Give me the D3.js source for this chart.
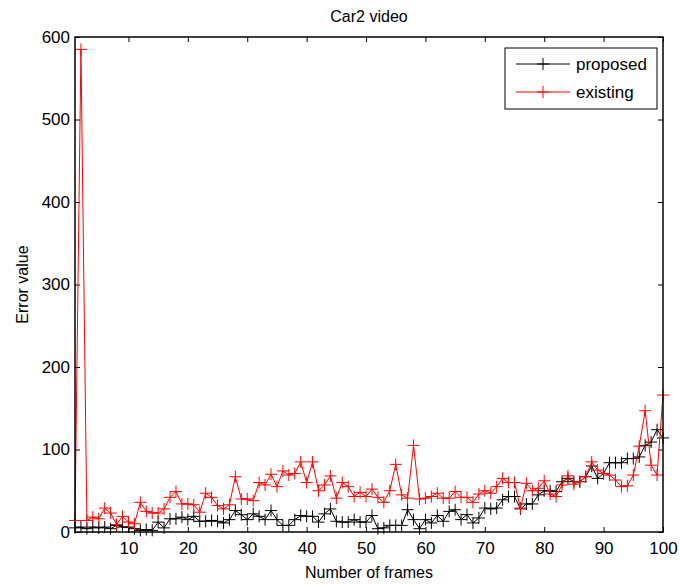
<!DOCTYPE html>
<html>
<head>
<meta charset="utf-8">
<script src="https://cdn.jsdelivr.net/npm/d3@7"></script>
<style>
  body { margin: 0; background: #fff; }
  text { font-family: "Liberation Sans", Arial, sans-serif; fill: #000; }
</style>
</head>
<body>
<script>
// #Data
const frames = d3.range(1, 101);
const proposed = [
    5, 6, 4, 6, 5, 6, 4, 8, 6, 6, 4, 2, 3, 2, 12, 5, 16, 16, 18, 15,
    19, 13, 13, 14, 13, 11, 15, 26, 21, 15, 22, 19, 15, 26, 15, 8, 8, 15, 20, 19,
    19, 12, 22, 28, 13, 12, 12, 15, 12, 12, 20, 4, 5, 8, 8, 8, 27, 15, 4, 15,
    11, 20, 13, 25, 27, 15, 21, 11, 17, 29, 28, 29, 39, 43, 43, 28, 34, 34, 45, 50,
    50, 49, 61, 65, 61, 61, 67, 80, 65, 71, 84, 84, 84, 89, 89, 91, 105, 109, 124, 114
];
const existing = [
    14, 585, 14, 18, 16, 29, 23, 9, 19, 12, 10, 36, 25, 23, 23, 28, 42, 49, 34, 34,
    33, 24, 47, 42, 32, 28, 33, 67, 40, 40, 38, 60, 57, 70, 55, 74, 69, 71, 85, 60,
    85, 50, 57, 68, 41, 60, 55, 43, 48, 43, 52, 42, 36, 50, 82, 45, 41, 105, 40, 41,
    43, 47, 41, 41, 49, 42, 42, 36, 46, 50, 47, 55, 65, 60, 60, 29, 59, 50, 53, 62,
    46, 43, 57, 68, 58, 61, 67, 85, 75, 71, 69, 63, 55, 56, 69, 104, 147, 81, 69, 166
];
const xTicks = [10, 20, 30, 40, 50, 60, 70, 80, 90, 100];
const yTicks = [0, 100, 200, 300, 400, 500, 600];
const seriesNames = ['proposed', 'existing'];
const seriesColors = ['#000000', '#ff0000'];

// #Define SVG
const width = 680, height = 586;
const margin = {top: 37, right: 17, bottom: 54, left: 75};
const innerW = width - margin.left - margin.right;
const innerH = height - margin.top - margin.bottom;

const svg = d3.select('body')
              .append('svg')
              .attr('width', width)
              .attr('height', height);

const g = svg.append('g')
             .attr('transform', 'translate(' + margin.left + ',' + margin.top + ')');

// #Scales
const xScale = d3.scaleLinear().domain([1, 100]).range([0, innerW]);
const yScale = d3.scaleLinear().domain([0, 600]).range([innerH, 0]);

// #Axes, ticks pointing inwards like matlab
const tickLen = 5;
const fmt = d3.format('d');

g.append('g')
 .attr('transform', 'translate(0,' + innerH + ')')
 .call(d3.axisBottom(xScale).tickValues(xTicks).tickFormat(fmt).tickSizeInner(-tickLen).tickSizeOuter(0).tickPadding(10));
g.append('g')
 .call(d3.axisTop(xScale).tickValues(xTicks).tickFormat('').tickSizeInner(-tickLen).tickSizeOuter(0));
g.append('g')
 .call(d3.axisLeft(yScale).tickValues(yTicks).tickFormat(fmt).tickSizeInner(-tickLen).tickSizeOuter(0).tickPadding(5));
g.append('g')
 .attr('transform', 'translate(' + innerW + ',0)')
 .call(d3.axisRight(yScale).tickValues(yTicks).tickFormat('').tickSizeInner(-tickLen).tickSizeOuter(0));

g.selectAll('.domain').remove();
g.selectAll('.tick text').style('font-size', '17px').style('font-family', '"Liberation Sans", Arial, sans-serif');
g.selectAll('.tick line').attr('stroke', '#000');

// #Draw series: proposed first, existing on top
const line = d3.line().x((d, i) => xScale(frames[i])).y(d => yScale(d));
const mk = 6;
[proposed, existing].forEach((vals, s) => {
    const col = seriesColors[s];
    g.append('path')
     .datum(vals)
     .attr('d', line)
     .attr('fill', 'none')
     .attr('stroke', col)
     .attr('stroke-width', 1);
    g.append('g')
     .selectAll('path')
     .data(vals)
     .enter()
     .append('path')
     .attr('d', (d, i) => {
         const x = xScale(frames[i]), y = yScale(d);
         return 'M' + (x - mk) + ',' + y + 'H' + (x + mk) + 'M' + x + ',' + (y - mk) + 'V' + (y + mk);
     })
     .attr('stroke', col)
     .attr('stroke-width', 1);
});

// #Box around plot
g.append('rect')
 .attr('width', innerW)
 .attr('height', innerH)
 .attr('fill', 'none')
 .attr('stroke', '#000')
 .attr('stroke-width', 1.5);

// #Legend
const legend = g.append('g').attr('transform', 'translate(' + (505 - margin.left) + ',' + (48 - margin.top) + ')');
legend.append('rect')
      .attr('width', 152)
      .attr('height', 61)
      .attr('fill', '#fff')
      .attr('stroke', '#000');
seriesNames.forEach((name, s) => {
    const ly = 16 + s * 28;
    legend.append('line')
          .attr('x1', 11).attr('x2', 65)
          .attr('y1', ly).attr('y2', ly)
          .attr('stroke', seriesColors[s]);
    legend.append('path')
          .attr('d', 'M' + (38 - mk) + ',' + ly + 'H' + (38 + mk) + 'M38,' + (ly - mk) + 'V' + (ly + mk))
          .attr('stroke', seriesColors[s]);
    legend.append('text')
          .attr('x', 71)
          .attr('y', ly + 6)
          .style('font-size', '17px')
          .text(name);
});

// #Titles
svg.append('text')
   .attr('x', margin.left + innerW / 2)
   .attr('y', 22)
   .attr('text-anchor', 'middle')
   .style('font-size', '16px')
   .text('Car2 video');

svg.append('text')
   .attr('x', margin.left + innerW / 2)
   .attr('y', 578)
   .attr('text-anchor', 'middle')
   .style('font-size', '16px')
   .text('Number of frames');

svg.append('text')
   .attr('transform', 'translate(28,' + (margin.top + innerH / 2) + ') rotate(-90)')
   .attr('text-anchor', 'middle')
   .style('font-size', '16px')
   .text('Error value');
</script>
</body>
</html>
